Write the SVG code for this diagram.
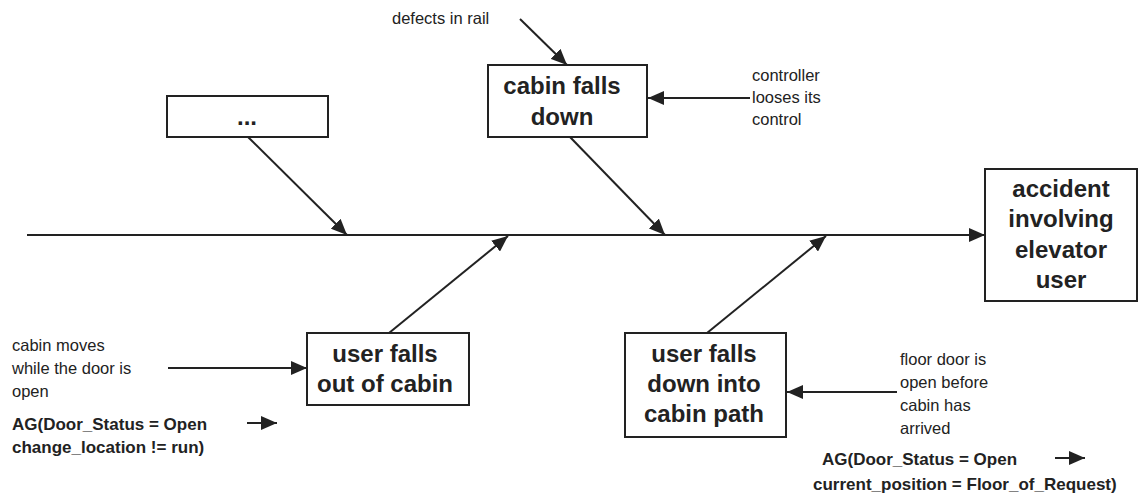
<svg xmlns="http://www.w3.org/2000/svg" width="1139" height="495" viewBox="0 0 1139 495">
  <style>
    .box { fill: #fff; stroke: #222; stroke-width: 2; }
    .lbl { font-family: "Liberation Sans", Arial, sans-serif; font-weight: bold; font-size: 24px; fill: #222; text-anchor: middle; }
    .cause { font-family: "Liberation Sans", Arial, sans-serif; font-size: 16.5px; fill: #222; }
    .formula { font-family: "Liberation Sans", Arial, sans-serif; font-weight: bold; font-size: 17px; fill: #222; }
    .edge { stroke: #222; stroke-width: 2; fill: none; marker-end: url(#head); }
  </style>
  <defs>
    <marker id="head" markerUnits="userSpaceOnUse" markerWidth="16" markerHeight="14" refX="16" refY="7" orient="auto">
      <path d="M0,0 L16,7 L0,14 Z" fill="#222"/>
    </marker>
  </defs>
  <rect width="1139" height="495" fill="#fff"/>

  <!-- spine and bones -->
  <g id="connectors">
    <line class="edge" x1="27" y1="235" x2="985" y2="235"/>
    <line class="edge" x1="248" y1="137" x2="347" y2="235"/>
    <line class="edge" x1="570" y1="137" x2="665" y2="235"/>
    <line class="edge" x1="389" y1="333" x2="508" y2="236"/>
    <line class="edge" x1="707" y1="333" x2="826" y2="236"/>
    <line class="edge" x1="520" y1="19" x2="567" y2="65"/>
    <line class="edge" x1="750" y1="98" x2="648" y2="98"/>
    <line class="edge" x1="168" y1="368" x2="307" y2="368"/>
    <line class="edge" x1="897" y1="392" x2="787" y2="392"/>
    <line class="edge" x1="247" y1="423" x2="277" y2="423"/>
    <line class="edge" x1="1055" y1="458" x2="1085" y2="458"/>
  </g>

  <g id="effect">
    <rect class="box" x="985" y="169" width="152" height="132"/>
    <text class="lbl" x="1061" y="197">accident</text>
    <text class="lbl" x="1061" y="227">involving</text>
    <text class="lbl" x="1061" y="258">elevator</text>
    <text class="lbl" x="1061" y="288">user</text>
  </g>

  <g id="other">
    <rect class="box" x="167" y="96" width="161" height="41"/>
    <text class="lbl" x="247" y="125">...</text>
  </g>

  <g id="cabin-falls">
    <rect class="box" x="488" y="65" width="159" height="72"/>
    <text class="lbl" x="562" y="94">cabin falls</text>
    <text class="lbl" x="562" y="125">down</text>
  </g>

  <g id="user-out">
    <rect class="box" x="307" y="333" width="162" height="72"/>
    <text class="lbl" x="385" y="362">user falls</text>
    <text class="lbl" x="385" y="392">out of cabin</text>
  </g>

  <g id="user-path">
    <rect class="box" x="625" y="333" width="161" height="104"/>
    <text class="lbl" x="704" y="362">user falls</text>
    <text class="lbl" x="704" y="392">down into</text>
    <text class="lbl" x="704" y="422">cabin path</text>
  </g>

  <g id="cause-rail">
    <text class="cause" x="392" y="24">defects in rail</text>
  </g>

  <g id="cause-controller">
    <text class="cause" x="752" y="81">controller</text>
    <text class="cause" x="752" y="103">looses its</text>
    <text class="cause" x="752" y="125">control</text>
  </g>

  <g id="cause-moves">
    <text class="cause" x="12" y="351">cabin moves</text>
    <text class="cause" x="12" y="374">while the door is</text>
    <text class="cause" x="12" y="397">open</text>
    <text class="formula" x="12" y="430">AG(Door_Status = Open</text>
    <text class="formula" x="12" y="453">change_location != run)</text>
  </g>

  <g id="cause-floor">
    <text class="cause" x="900" y="365">floor door is</text>
    <text class="cause" x="900" y="388">open before</text>
    <text class="cause" x="900" y="411">cabin has</text>
    <text class="cause" x="900" y="434">arrived</text>
    <text class="formula" x="822" y="465">AG(Door_Status = Open</text>
    <text class="formula" x="813" y="490">current_position = Floor_of_Request)</text>
  </g>
</svg>
